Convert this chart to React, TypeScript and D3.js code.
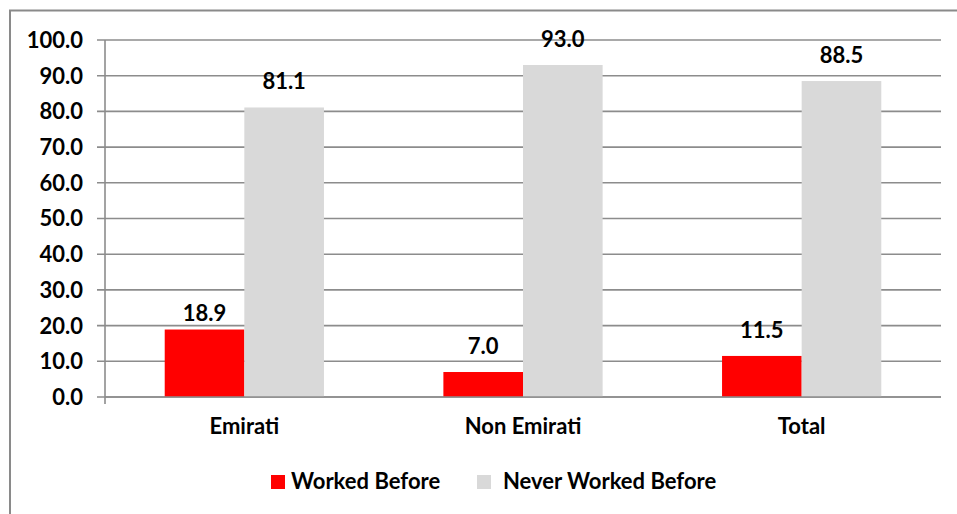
import React from "react";
import * as d3 from "d3";

const categories = ["Emirati", "Non Emirati", "Total"];
const seriesNames = ["Worked Before", "Never Worked Before"];
const workedBefore = [18.9, 7.0, 11.5];
const neverWorkedBefore = [81.1, 93.0, 88.5];
const yTicks = [0, 10, 20, 30, 40, 50, 60, 70, 80, 90, 100];
const colors = ["#FF0000", "#D9D9D9"];

const W = 957;
const H = 514;
const FONT = "Lato, 'Open Sans', sans-serif";
const FS = 22;

export default function App() {
  const left = 105;
  const right = 941;
  const top = 40;
  const bottom = 397;

  const x0 = d3.scaleBand<string>().domain(categories).range([left, right]).paddingInner(0).paddingOuter(0);
  const y = d3.scaleLinear().domain([0, 100]).range([bottom, top]);
  const bw = x0.bandwidth();
  const barW = bw / 3.5;
  const series = [workedBefore, neverWorkedBefore];
  // label lift above bar top (series j, category i)
  const lift = (i: number, j: number) => (i === 0 && j === 0 ? 9 : 18);

  return (
    <div style={{ position: "fixed", left: 0, top: 0, width: W, height: H, background: "#fff" }}>
      <svg width={W} height={H} style={{ display: "block" }}>
        <rect x={0} y={0} width={W} height={H} fill="#fff" />
        {/* frame */}
        <path d={`M10,${H + 5} L10,10.5 L${W + 5},10.5`} fill="none" stroke="#8a8a8a" strokeWidth={2} />
        {/* gridlines + ticks */}
        {yTicks.map((t) => (
          <g key={t}>
            <line x1={97} x2={right} y1={y(t)} y2={y(t)} stroke="#8c8c8c" strokeWidth={1.6} />
            <text
              x={83}
              y={y(t)}
              dy="0.36em"
              textAnchor="end"
              fontFamily={FONT}
              fontWeight={700}
              fontSize={FS}
              fill="#000"
            >
              {t.toFixed(1)}
            </text>
          </g>
        ))}
        {/* bars */}
        {categories.map((c, i) => {
          const cx = (x0(c) as number) + bw / 2;
          return (
            <g key={c}>
              {series.map((s, j) => {
                const bx = cx - barW + j * barW;
                return (
                  <g key={j}>
                    <rect x={bx} y={y(s[i])} width={barW} height={y(0) - y(s[i])} fill={colors[j]} />
                    <text
                      x={bx + barW / 2}
                      y={y(s[i]) - lift(i, j)}
                      textAnchor="middle"
                      fontFamily={FONT}
                      fontWeight={700}
                      fontSize={FS}
                      fill="#000"
                    >
                      {s[i].toFixed(1)}
                    </text>
                  </g>
                );
              })}
              <text
                x={cx}
                y={434}
                textAnchor="middle"
                fontFamily={FONT}
                fontWeight={700}
                fontSize={FS}
                fill="#000"
              >
                {c}
              </text>
            </g>
          );
        })}
        {/* axes */}
        <line x1={left} x2={left} y1={top} y2={404} stroke="#8c8c8c" strokeWidth={1.6} />
        <line x1={left} x2={right} y1={bottom} y2={bottom} stroke="#8c8c8c" strokeWidth={1.6} />
        {/* legend */}
        {seriesNames.map((n, j) => {
          const lx = j === 0 ? 271 : 477;
          const tx = j === 0 ? 291 : 503;
          return (
            <g key={n}>
              <rect x={lx} y={475} width={14} height={14} fill={colors[j]} />
              <text x={tx} y={489} fontFamily={FONT} fontWeight={700} fontSize={FS} fill="#000">
                {n}
              </text>
            </g>
          );
        })}
      </svg>
    </div>
  );
}
